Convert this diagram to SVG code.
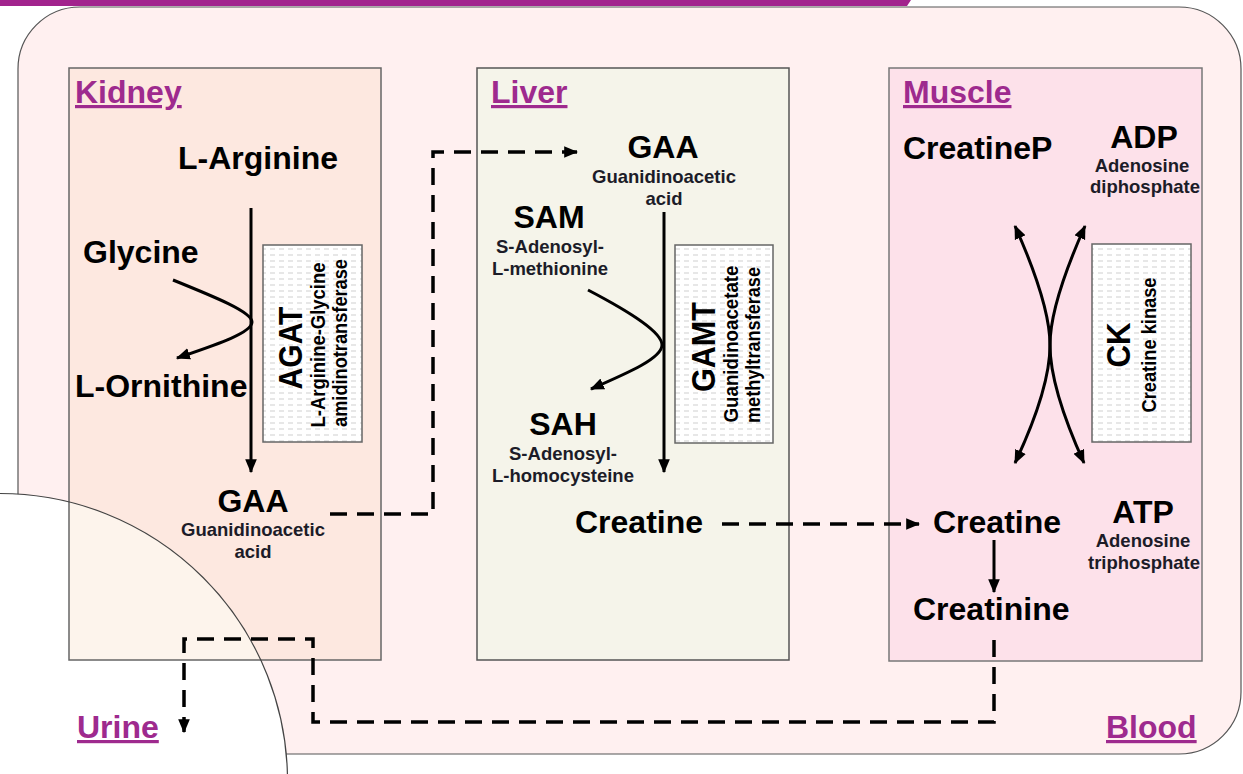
<svg xmlns="http://www.w3.org/2000/svg" width="1243" height="774" viewBox="0 0 1243 774">
<defs>
<style>
.t{font-family:"Liberation Sans",Arial,sans-serif;font-weight:bold}
.big{font-size:32px;fill:#000}
.sub{font-size:18.5px;fill:#1c1c28}
.head{font-size:32px;fill:#9e2a8e;text-decoration:underline}
.enz{font-size:33px;fill:#000}
.enzs{font-size:19.5px;fill:#000}
.mid{text-anchor:middle}
.enzbox{fill:url(#dash);stroke:#666;stroke-width:1.5}
.solid{fill:none;stroke:#000;stroke-width:3}
.dashed{fill:none;stroke:#000;stroke-width:3.5;stroke-dasharray:17 10}
</style>
<pattern id="dash" width="9" height="6" patternUnits="userSpaceOnUse"><rect width="9" height="6" fill="#fff"/><line x1="0" y1="3" x2="5" y2="3" stroke="#cfcfcf" stroke-width="1"/></pattern>
<marker id="ah" markerUnits="userSpaceOnUse" markerWidth="14" markerHeight="12" viewBox="0 0 12 10" refX="11" refY="5" orient="auto-start-reverse"><path d="M0,0 L12,5 L0,10 z" fill="#000"/></marker>
</defs>

<g id="background">
<rect x="18" y="7" width="1223" height="747" rx="62" fill="#fff0f0" stroke="#555" stroke-width="1.2"/>
<polygon points="0,0 911,0 907,6 0,6" fill="#a2238d"/>
<circle cx="0" cy="781" r="287.5" fill="#fff"/>
</g>

<g id="kidney-box"><rect x="69" y="68" width="312" height="592" fill="#f5cdaa" fill-opacity="0.22" stroke="#666" stroke-width="1.5"/></g>
<g id="liver-box"><rect x="477" y="68" width="312" height="592" fill="#f5f4ea" stroke="#555" stroke-width="1.5"/></g>
<g id="muscle-box"><rect x="889" y="68" width="313" height="593" fill="#fde1ea" stroke="#777" stroke-width="1.5"/></g>

<path id="urine-arc" d="M0,493.5 A287.5,287.5 0 0 1 287.5,781" fill="none" stroke="#444" stroke-width="1.2"/>

<g id="labels">
<text class="t head" x="75" y="103">Kidney</text>
<text class="t head" x="491" y="103">Liver</text>
<text class="t head" x="903" y="103">Muscle</text>
<text class="t head" x="77" y="738">Urine</text>
<text class="t head" x="1106" y="738">Blood</text>
</g>

<g id="l-arginine"><text class="t big" x="178" y="169">L-Arginine</text></g>
<g id="glycine"><text class="t big" x="83" y="263">Glycine</text></g>
<g id="l-ornithine"><text class="t big" x="75" y="397">L-Ornithine</text></g>
<g id="gaa-kidney">
<text class="t big mid" x="253" y="512">GAA</text>
<text class="t sub mid" x="253" y="536">Guanidinoacetic</text>
<text class="t sub mid" x="253" y="558">acid</text>
</g>
<g id="agat">
<rect class="enzbox" x="263" y="245" width="99" height="197"/>
<text class="t enz mid" transform="translate(302,348) rotate(-90)" textLength="83" lengthAdjust="spacingAndGlyphs">AGAT</text>
<text class="t enzs mid" transform="translate(325,345) rotate(-90)" textLength="165" lengthAdjust="spacingAndGlyphs">L-Arginine-Glycine</text>
<text class="t enzs mid" transform="translate(347,343) rotate(-90)" textLength="168" lengthAdjust="spacingAndGlyphs">amidinotransferase</text>
</g>

<g id="gaa-liver">
<text class="t big mid" x="663" y="158">GAA</text>
<text class="t sub mid" x="664" y="183">Guanidinoacetic</text>
<text class="t sub mid" x="664" y="205">acid</text>
</g>
<g id="sam">
<text class="t big mid" x="549" y="228">SAM</text>
<text class="t sub mid" x="550" y="253">S-Adenosyl-</text>
<text class="t sub mid" x="550" y="275">L-methionine</text>
</g>
<g id="sah">
<text class="t big mid" x="563" y="435">SAH</text>
<text class="t sub mid" x="563" y="460">S-Adenosyl-</text>
<text class="t sub mid" x="563" y="482">L-homocysteine</text>
</g>
<g id="gamt">
<rect class="enzbox" x="675" y="245" width="98" height="198"/>
<text class="t enz mid" transform="translate(715,347) rotate(-90)" textLength="90" lengthAdjust="spacingAndGlyphs">GAMT</text>
<text class="t enzs mid" transform="translate(738,344) rotate(-90)" textLength="157" lengthAdjust="spacingAndGlyphs">Guanidinoacetate</text>
<text class="t enzs mid" transform="translate(760,345) rotate(-90)" textLength="156" lengthAdjust="spacingAndGlyphs">methyltransferase</text>
</g>
<g id="creatine-liver"><text class="t big" x="575" y="533">Creatine</text></g>

<g id="creatinep"><text class="t big" x="903" y="159">CreatineP</text></g>
<g id="adp">
<text class="t big mid" x="1144" y="148">ADP</text>
<text class="t sub mid" x="1142" y="172">Adenosine</text>
<text class="t sub mid" x="1145" y="193">diphosphate</text>
</g>
<g id="ck">
<rect class="enzbox" x="1092" y="244" width="99" height="198"/>
<text class="t enz mid" transform="translate(1130,345) rotate(-90)" textLength="45" lengthAdjust="spacingAndGlyphs">CK</text>
<text class="t enzs mid" transform="translate(1156,345) rotate(-90)" textLength="135" lengthAdjust="spacingAndGlyphs">Creatine kinase</text>
</g>
<g id="creatine-muscle"><text class="t big" x="933" y="533">Creatine</text></g>
<g id="atp">
<text class="t big mid" x="1143" y="523">ATP</text>
<text class="t sub mid" x="1143" y="547">Adenosine</text>
<text class="t sub mid" x="1144" y="569">triphosphate</text>
</g>
<g id="creatinine"><text class="t big" x="913" y="620">Creatinine</text></g>

<g id="connectors">
<path class="solid" d="M251,208 L251,472" marker-end="url(#ah)"/>
<path class="solid" d="M173,280 C215,297 252,312 252,322 C252,333 215,345 177,358" marker-end="url(#ah)"/>
<path class="solid" d="M664,212 L664,472" marker-end="url(#ah)"/>
<path class="solid" d="M588,290 C630,312 662,332 662,345 C662,358 630,372 591,389" marker-end="url(#ah)"/>
<path class="dashed" d="M330,514 H433 V152 H577" marker-end="url(#ah)"/>
<path class="dashed" d="M722,524 H919" marker-end="url(#ah)"/>
<path class="dashed" d="M994,640 V722 H313 V639 H184 V732" marker-end="url(#ah)"/>
<path class="solid" d="M994,540 V592" marker-end="url(#ah)"/>
<path class="solid" d="M1015,226 C1040,282 1050,318 1050,345 C1050,372 1060,410 1084,463" marker-start="url(#ah)" marker-end="url(#ah)"/>
<path class="solid" d="M1085,226 C1060,282 1050,318 1050,345 C1050,372 1040,410 1015,463" marker-start="url(#ah)" marker-end="url(#ah)"/>
</g>
</svg>
